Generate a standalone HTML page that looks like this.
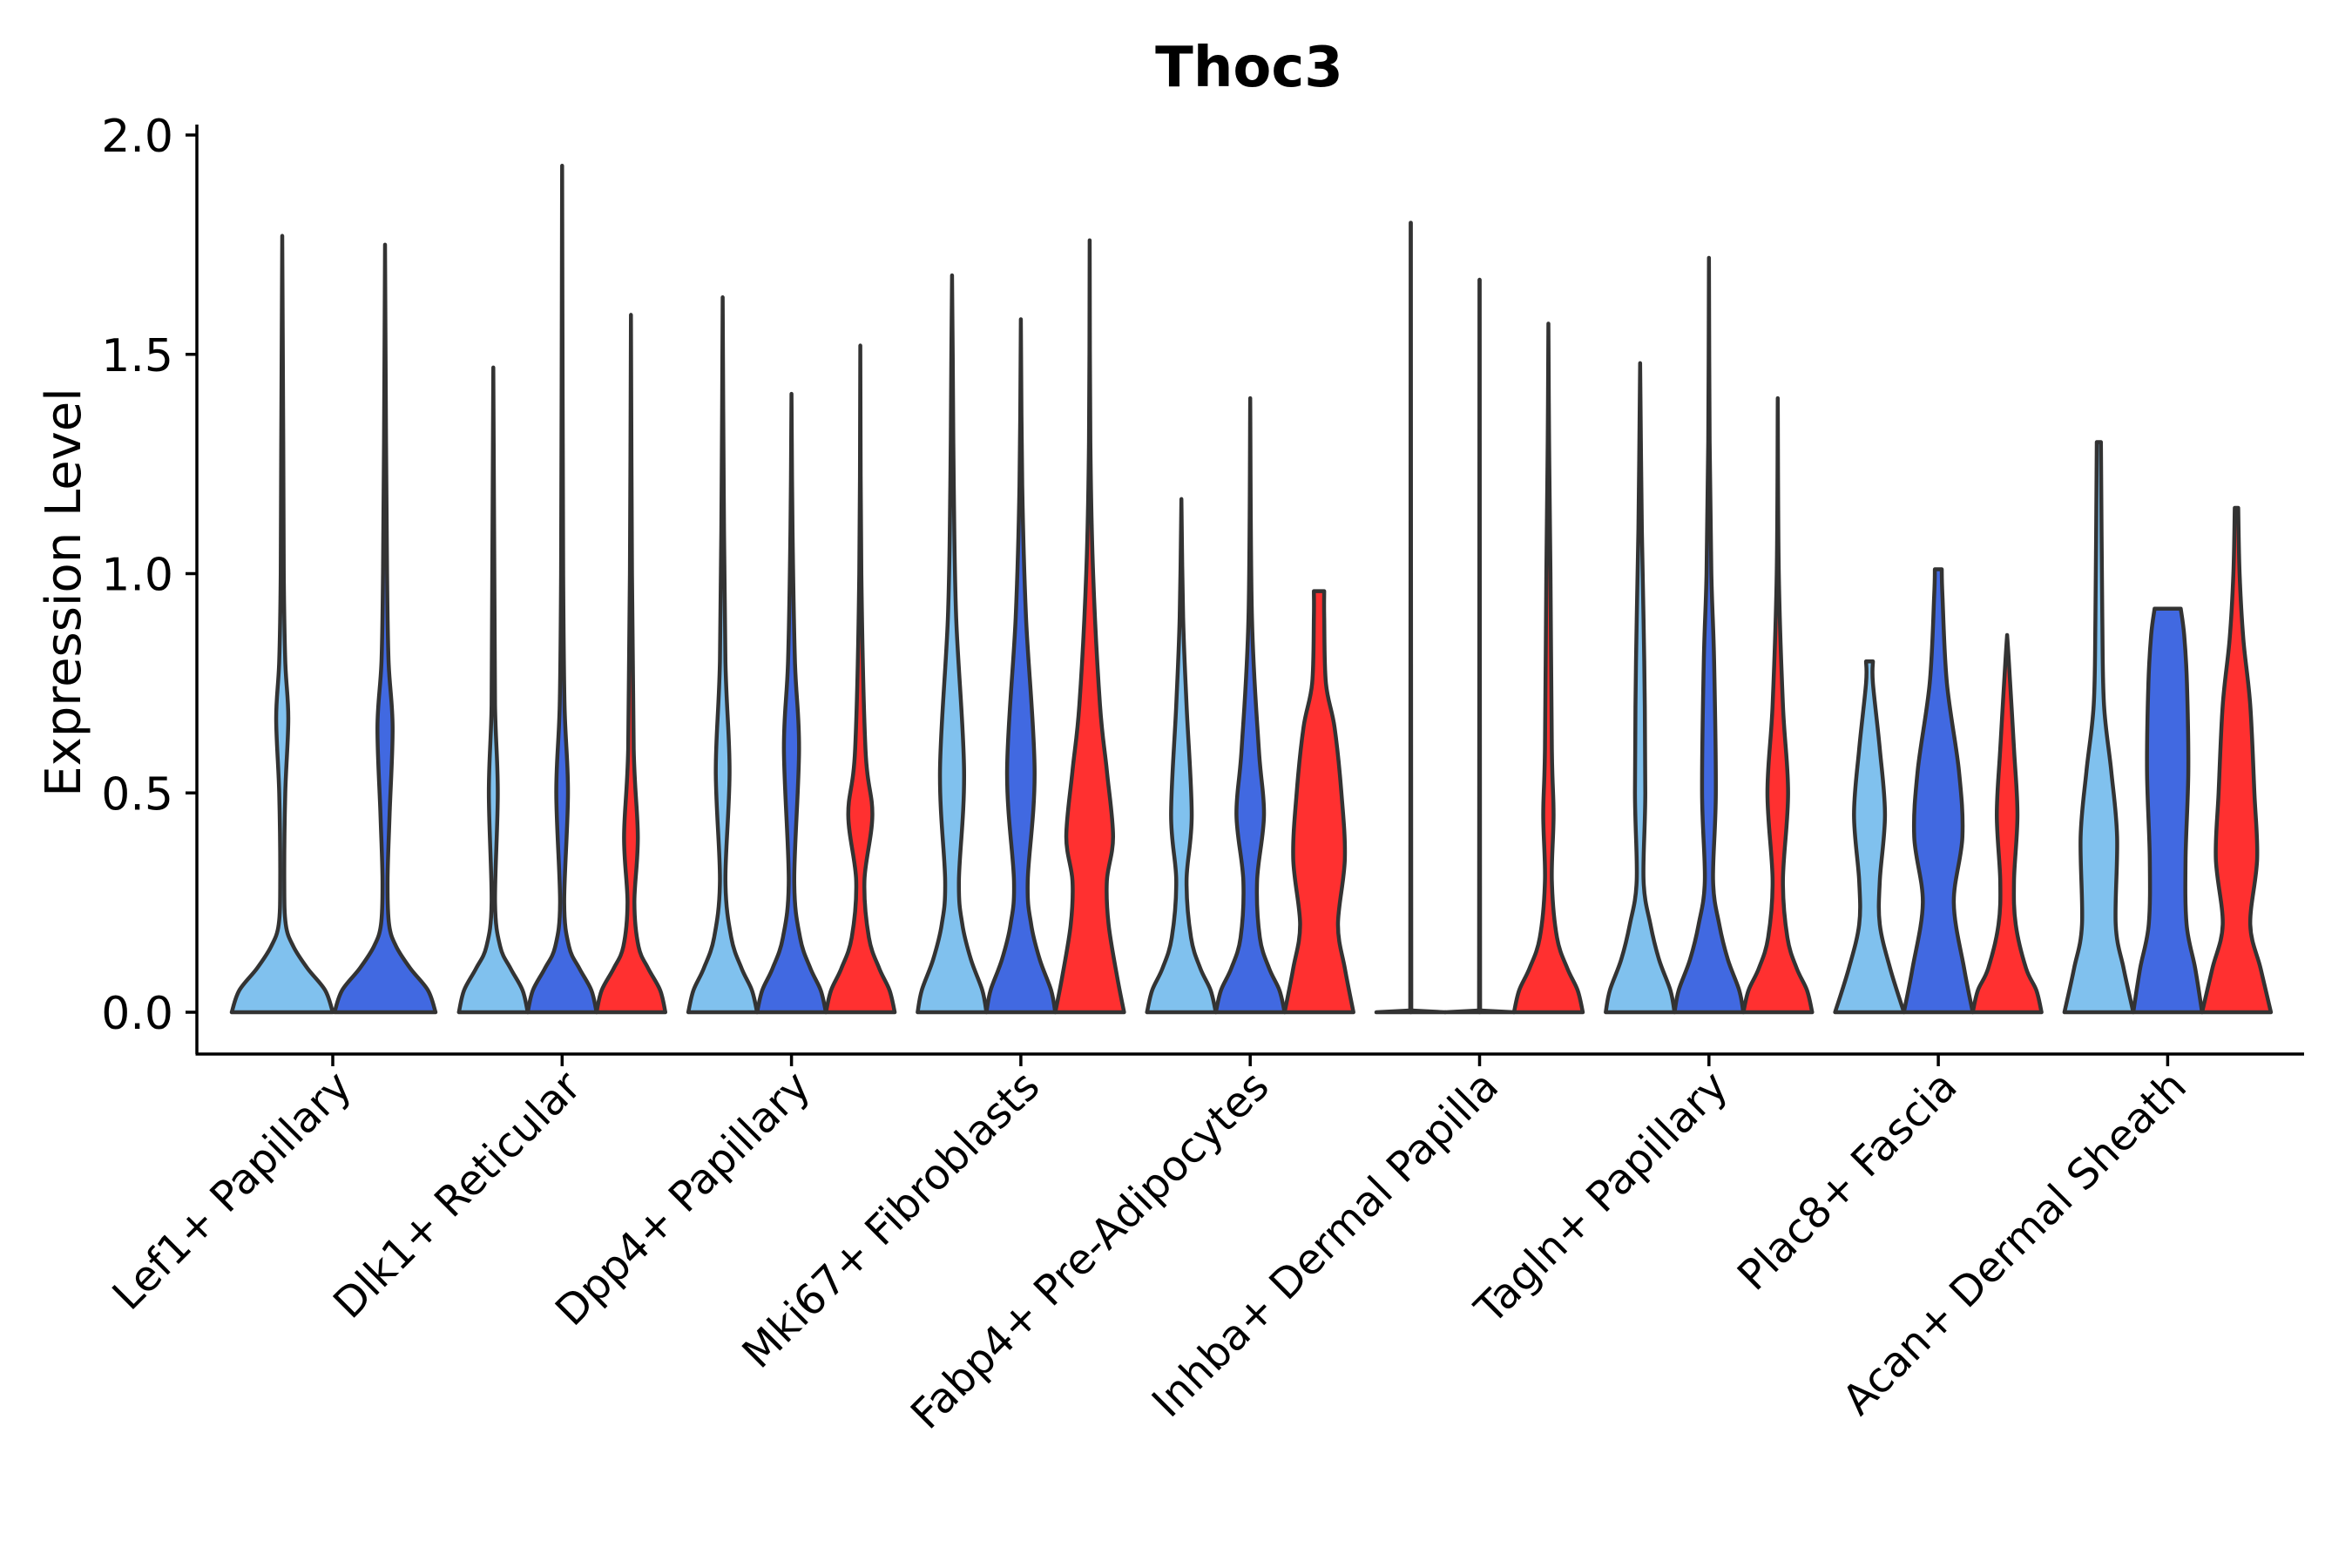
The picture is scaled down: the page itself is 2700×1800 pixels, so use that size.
<!DOCTYPE html>
<html><head><meta charset="utf-8"><style>
html,body{margin:0;padding:0;background:#fff;}
svg{display:block;font-family:"DejaVu Sans","Liberation Sans",sans-serif;}
</style></head><body>
<svg id="chart" width="2700" height="1800" viewBox="0 0 2700 1800">
<text x="1434" y="99" font-size="64" font-weight="bold" text-anchor="middle">Thoc3</text>
<text transform="translate(92,680) rotate(-90)" font-size="56" text-anchor="middle">Expression Level</text>
<g id="yaxis"></g>
<g id="xaxis"></g>
<g id="violins"></g>
</svg>
<script>
const categories = ["Lef1+ Papillary","Dlk1+ Reticular","Dpp4+ Papillary","Mki67+ Fibroblasts","Fabp4+ Pre-Adipocytes","Inhba+ Dermal Papilla","Tagln+ Papillary","Plac8+ Fascia","Acan+ Dermal Sheath"];
const yTicks = [0,0.5,1.0,1.5,2.0];
const yTickLabels = ["0.0","0.5","1.0","1.5","2.0"];
const seriesColors = ["#80C1EE","#4169E1","#FF3030"];
const violinGroup = [0,0,1,1,1,2,2,2,3,3,3,4,4,4,5,5,5,6,6,6,7,7,7,8,8,8];
const violinSeries = [0,1,0,1,2,0,1,2,0,1,2,0,1,2,0,1,2,0,1,2,0,1,2,0,1,2];
const violinMax = [1.77,1.75,1.47,1.93,1.59,1.63,1.41,1.52,1.68,1.58,1.76,1.17,1.40,0.96,1.80,1.67,1.57,1.48,1.72,1.40,0.80,1.01,0.86,1.30,0.92,1.15];
const violinFlatTop = [0,0,0,0,0,0,0,0,0,0,0,0,0,1,0,0,0,0,0,0,1,1,0,1,1,1];
const violinLinear = [0,0,0,0,0,0,0,0,0,0,0,0,0,0,1,1,0,0,0,0,0,0,0,0,0,0];
const violinProfiles = [
 [[0,1],[0.05,0.85],[0.1,0.5],[0.15,0.22],[0.2,0.07],[0.3,0.04],[0.5,0.06],[0.67,0.12],[0.8,0.06],[1.0,0.03],[1.3,0.02]],
 [[0,1],[0.05,0.85],[0.1,0.5],[0.15,0.22],[0.2,0.08],[0.3,0.05],[0.45,0.09],[0.65,0.15],[0.8,0.07],[1.0,0.04],[1.3,0.02]],
 [[0,1],[0.05,0.85],[0.1,0.5],[0.15,0.2],[0.25,0.05],[0.5,0.13],[0.7,0.05],[1.0,0.03]],
 [[0,1],[0.05,0.85],[0.1,0.5],[0.15,0.2],[0.25,0.06],[0.5,0.17],[0.7,0.07],[1.0,0.03],[1.4,0.015]],
 [[0,1],[0.05,0.85],[0.1,0.5],[0.15,0.22],[0.25,0.1],[0.4,0.2],[0.6,0.08],[1.0,0.03]],
 [[0,1],[0.05,0.85],[0.1,0.55],[0.17,0.25],[0.3,0.08],[0.55,0.2],[0.8,0.08],[1.2,0.03]],
 [[0,1],[0.05,0.85],[0.1,0.55],[0.17,0.25],[0.3,0.08],[0.6,0.22],[0.8,0.1],[1.1,0.03]],
 [[0,1],[0.05,0.85],[0.1,0.55],[0.17,0.25],[0.3,0.12],[0.45,0.35],[0.6,0.15],[1.0,0.03]],
 [[0,1],[0.05,0.88],[0.12,0.55],[0.2,0.3],[0.3,0.2],[0.55,0.35],[0.9,0.12],[1.2,0.05],[1.5,0.02]],
 [[0,1],[0.05,0.88],[0.12,0.55],[0.2,0.3],[0.3,0.2],[0.55,0.4],[0.9,0.15],[1.2,0.04]],
 [[0,1],[0.08,0.8],[0.2,0.55],[0.3,0.5],[0.4,0.68],[0.55,0.5],[0.7,0.3],[1.0,0.1],[1.3,0.02]],
 [[0,1],[0.05,0.85],[0.1,0.55],[0.17,0.28],[0.3,0.15],[0.45,0.3],[0.7,0.15],[0.9,0.05]],
 [[0,1],[0.05,0.85],[0.1,0.55],[0.17,0.28],[0.3,0.2],[0.45,0.4],[0.6,0.25],[0.9,0.05]],
 [[0,1],[0.1,0.75],[0.2,0.55],[0.35,0.75],[0.5,0.65],[0.65,0.45],[0.75,0.2],[0.9,0.15],[0.96,0.15]],
 [[0,1],[0.004,0.02],[0.01,0.015]],
 [[0,1],[0.004,0.02],[0.01,0.015]],
 [[0,1],[0.05,0.85],[0.1,0.55],[0.17,0.25],[0.3,0.1],[0.45,0.15],[0.6,0.1],[1.0,0.06],[1.3,0.02]],
 [[0,1],[0.05,0.88],[0.12,0.55],[0.2,0.3],[0.3,0.1],[0.5,0.15],[0.8,0.12],[1.1,0.05]],
 [[0,1],[0.05,0.88],[0.12,0.55],[0.2,0.3],[0.3,0.12],[0.5,0.2],[0.8,0.15],[1.0,0.07],[1.3,0.02]],
 [[0,1],[0.05,0.85],[0.1,0.55],[0.17,0.28],[0.3,0.15],[0.5,0.3],[0.7,0.15],[1.0,0.03]],
 [[0,1],[0.1,0.6],[0.2,0.3],[0.3,0.3],[0.45,0.45],[0.6,0.3],[0.75,0.1],[0.8,0.1]],
 [[0,1],[0.1,0.75],[0.25,0.45],[0.4,0.7],[0.55,0.6],[0.75,0.25],[0.95,0.12],[1.01,0.1]],
 [[0,1],[0.05,0.85],[0.1,0.55],[0.2,0.25],[0.3,0.2],[0.45,0.3],[0.6,0.2],[0.8,0.05]],
 [[0,1],[0.1,0.72],[0.2,0.49],[0.4,0.53],[0.55,0.36],[0.7,0.15],[0.9,0.1],[1.3,0.06]],
 [[0,1],[0.1,0.8],[0.2,0.55],[0.35,0.52],[0.55,0.6],[0.75,0.56],[0.86,0.48],[0.92,0.38]],
 [[0,1],[0.1,0.7],[0.2,0.4],[0.35,0.6],[0.5,0.52],[0.7,0.4],[0.85,0.2],[1.0,0.09],[1.15,0.05]]
];
const NS="http://www.w3.org/2000/svg";
const Y0=1162, Y2=155;
const yScale = v => Y0 - v*(Y0-Y2)/2;
const xCat = i => 382 + i*263.3;
function mk(tag, attrs, parent){const e=document.createElementNS(NS,tag);for(const k in attrs)e.setAttribute(k,attrs[k]);parent.appendChild(e);return e;}
const ya=document.getElementById('yaxis'), xa=document.getElementById('xaxis'), vg=document.getElementById('violins');
mk('line',{x1:226,y1:143,x2:226,y2:1210,stroke:'#000','stroke-width':3.5},ya);
mk('line',{x1:224.5,y1:1210,x2:2645,y2:1210,stroke:'#000','stroke-width':3.5},xa);
yTicks.forEach((t,i)=>{
 const y=yScale(t);
 const tk=mk('line',{x1:213,y1:y,x2:226,y2:y,stroke:'#000','stroke-width':3.5},ya);
 
 
 const tx=mk('text',{x:199,y:y+19,'font-size':52,'text-anchor':'end',fill:'#000'},ya);
 tx.textContent=yTickLabels[i];
 
 
});
categories.forEach((c,i)=>{
 const x=xCat(i);
 const tk=mk('line',{x1:x,y1:1210,x2:x,y2:1224,stroke:'#000','stroke-width':3.5},xa);
 
 
 const tx=mk('text',{transform:`translate(${x+24},${1250}) rotate(-45)`,'font-size':48,'text-anchor':'end',fill:'#000'},xa);
 tx.textContent=c;
 
 
});
function catmull(pts){
 let d=`M${pts[0][0]},${pts[0][1]}`;
 for(let i=0;i<pts.length-1;i++){
  const p0=pts[Math.max(0,i-1)],p1=pts[i],p2=pts[i+1],p3=pts[Math.min(pts.length-1,i+2)];
  const c1=[p1[0]+(p2[0]-p0[0])/6,p1[1]+(p2[1]-p0[1])/6];
  const c2=[p2[0]-(p3[0]-p1[0])/6,p2[1]-(p3[1]-p1[1])/6];
  d+=` C${c1[0]},${c1[1]} ${c2[0]},${c2[1]} ${p2[0]},${p2[1]}`;
 }
 return d;
}
function linear(pts){return 'M'+pts.map(p=>p[0]+','+p[1]).join(' L');}
violinGroup.forEach((g,k)=>{
 const s=violinSeries[k];
 let cx,H;
 if(g===0){cx=xCat(0)+(s===0?-58:60);H=58;}
 else{cx=xCat(g)+(s-1)*79;H=39.5;}
 const mx=violinMax[k];
 const prof=violinProfiles[k].slice();
 if(!violinFlatTop[k]) prof.push([mx,0]);
 const right=prof.map(p=>[cx+p[1]*H,yScale(p[0])]);
 const left=prof.slice().reverse().map(p=>[cx-p[1]*H,yScale(p[0])]);
 const f=violinLinear[k]?linear:catmull;
 let d=f(right);
 const lp=f(left).replace(/^M[^ ]+/,'');
 d+=` L${left[0][0]},${left[0][1]}`+(violinLinear[k]?' L'+lp.replace(/^ L/,''):lp)+' Z';
 const p=mk('path',{d:d,fill:seriesColors[s],stroke:'#333','stroke-width':4.5,'stroke-linejoin':'round'},vg);
 
 
 if(violinLinear[k]){
  const l=mk('line',{x1:cx,y1:yScale(0),x2:cx,y2:yScale(mx),stroke:'#333','stroke-width':4.5,'stroke-linecap':'round'},vg);
  
  
 }
});
</script>
</body></html>
